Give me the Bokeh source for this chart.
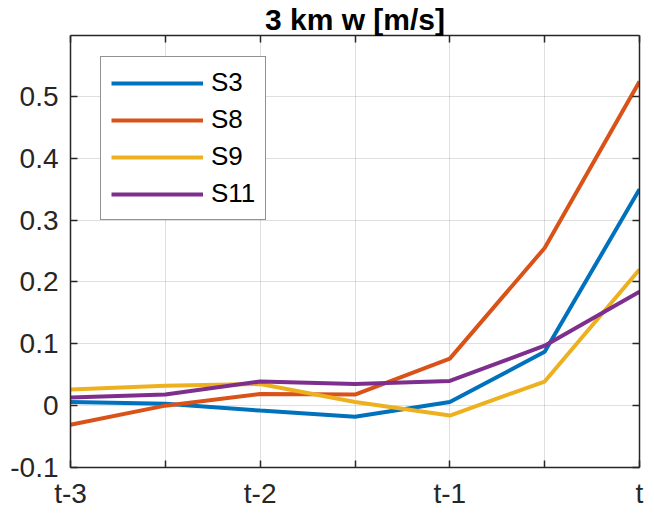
from bokeh.plotting import figure
from bokeh.models import FixedTicker, LinearAxis, Range1d, Legend, LegendItem, Title
from bokeh.embed import file_html
from bokeh.resources import INLINE

x_pos = [0, 1, 2, 3, 4, 5, 6]
x_labels = {0: "t-3", 1: "", 2: "t-2", 3: "", 4: "t-1", 5: "", 6: "t"}
y_ticks = [-0.1, 0, 0.1, 0.2, 0.3, 0.4, 0.5]
y_labels = {-0.1: "-0.1", 0: "0", 0.1: "0.1", 0.2: "0.2", 0.3: "0.3", 0.4: "0.4", 0.5: "0.5"}

series_names = ["S3", "S8", "S9", "S11"]
s3 = [0.006, 0.003, -0.008, -0.018, 0.006, 0.087, 0.350]
s8 = [-0.031, 0.000, 0.019, 0.018, 0.076, 0.255, 0.524]
s9 = [0.026, 0.032, 0.035, 0.006, -0.016, 0.039, 0.220]
s11 = [0.013, 0.018, 0.039, 0.035, 0.040, 0.097, 0.184]
colors = ["#0072BD", "#D95319", "#EDB120", "#7E2F8E"]

FONT = "Liberation Sans"
AX = "#262626"

p = figure(width=646, height=511, output_backend="svg", toolbar_location=None,
           x_range=Range1d(0, 6), y_range=Range1d(-0.1, 0.5985),
           min_border_left=70, min_border_right=7, min_border_bottom=42, min_border_top=35)
p.title = None

bx = p.xaxis[0]
ly = p.yaxis[0]

renderers = []
for name, ys, c in zip(series_names, [s3, s8, s9, s11], colors):
    r = p.line(x_pos, ys, line_color=c, line_width=4)
    renderers.append((name, r))

legend = Legend(items=[LegendItem(label=n, renderers=[r]) for n, r in renderers],
                location=(30, 247), glyph_width=92, glyph_height=24, label_height=24,
                spacing=6, padding=10, margin=0, label_standoff=8,
                label_text_font=FONT, label_text_font_size="26px", label_text_color="#000000",
                border_line_color=AX, border_line_width=1.5, background_fill_alpha=1)
p.add_layout(legend, "center")

bx.ticker = FixedTicker(ticks=x_pos)
bx.major_label_overrides = x_labels
ly.ticker = FixedTicker(ticks=y_ticks)
ly.major_label_overrides = y_labels

top = LinearAxis(ticker=FixedTicker(ticks=x_pos),
                 major_label_overrides={k: "" for k in x_pos})
right = LinearAxis(ticker=FixedTicker(ticks=y_ticks),
                   major_label_overrides={k: "" for k in y_ticks})
p.add_layout(top, "above")
p.add_layout(right, "right")

t = Title(text="3 km w [m/s]", align="center", text_font=FONT, text_font_size="30px",
          text_font_style="bold", text_color="#000000", standoff=0)
p.add_layout(t, "above")

for ax in [bx, ly, top, right]:
    ax.axis_line_color = AX
    ax.axis_line_width = 1.5
    ax.major_tick_line_color = AX
    ax.major_tick_line_width = 1.5
    ax.major_tick_in = 7
    ax.major_tick_out = 0
    ax.minor_tick_line_color = None
    ax.major_label_text_font = FONT
    ax.major_label_text_color = AX
    ax.major_label_text_font_size = "28px"
bx.major_label_standoff = 10
ly.major_label_standoff = 12
top.major_label_standoff = 0
right.major_label_standoff = 0

p.xgrid.ticker = FixedTicker(ticks=x_pos)
p.ygrid.ticker = FixedTicker(ticks=y_ticks)
p.grid.grid_line_color = "#262626"
p.grid.grid_line_alpha = 0.15
p.outline_line_color = None
p.background_fill_color = "white"
p.border_fill_color = "white"

open("out.html", "w").write(file_html(p, INLINE))
